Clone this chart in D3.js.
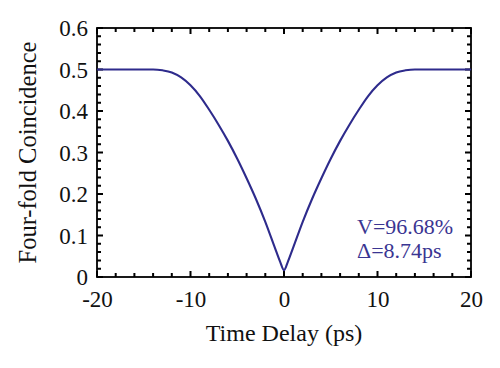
<!DOCTYPE html>
<html>
<head>
<meta charset="utf-8">
<script src="https://cdn.jsdelivr.net/npm/d3@7"></script>
<style>
  html, body { margin: 0; padding: 0; background: #fff; }
  svg { display: block; }
  text { font-family: "Liberation Serif", "DejaVu Serif", serif; }
</style>
</head>
<body>
<svg id="chart" width="500" height="368"></svg>
<script>
// ---- data ----
const delays = [-20, -16, -14, -13, -12, -11, -10, -9, -8, -7, -6, -5, -4, -3, -2, -1, -0.4, 0, 0.4, 1, 2, 3, 4, 5, 6, 7, 8, 9, 10, 11, 12, 13, 14, 16, 20];
const coincidence = [0.5, 0.5, 0.5, 0.498, 0.493, 0.481, 0.462, 0.436, 0.403, 0.367, 0.328, 0.285, 0.238, 0.188, 0.133, 0.072, 0.036, 0.0166, 0.036, 0.072, 0.133, 0.188, 0.238, 0.285, 0.328, 0.367, 0.403, 0.436, 0.462, 0.481, 0.493, 0.498, 0.5, 0.5, 0.5];
const xTickValues = [-20, -10, 0, 10, 20];
const yTickValues = [0, 0.1, 0.2, 0.3, 0.4, 0.5, 0.6];
const xLabel = "Time Delay (ps)";
const yLabel = "Four-fold Coincidence";
const annotations = ["V=96.68%", "\u0394=8.74ps"];

(function () {
const svg = d3.select("#chart");
const pLeft = 97, pRight = 471, pTop = 28, pBottom = 277;
const x = d3.scaleLinear().domain([-20, 20]).range([pLeft, pRight]);
const y = d3.scaleLinear().domain([0, 0.6]).range([pBottom, pTop]);
const lineColor = "#2e2b8c";
const tickFont = 23;

const xMinor = d3.range(-20, 20.001, 2);
const yMinor = d3.range(0, 0.6001, 0.02);
function isMajorX(v) { return Math.abs(v / 10 - Math.round(v / 10)) < 1e-6; }
function isMajorY(v) { return Math.abs(v * 10 - Math.round(v * 10)) < 1e-6; }

const g = svg.append("g");

// frame
g.append("rect").attr("x", pLeft).attr("y", pTop).attr("width", pRight - pLeft).attr("height", pBottom - pTop)
  .attr("fill", "none").attr("stroke", "#000").attr("stroke-width", 1.8);

// inward ticks drawn as one path per side
function tickPath(data, f) {
  const p = d3.path();
  data.forEach(d => { const a = f(d); p.moveTo(a[0], a[1]); p.lineTo(a[2], a[3]); });
  g.append("path").attr("d", p.toString()).attr("fill", "none").attr("stroke", "#000").attr("stroke-width", 2);
}
tickPath(xMinor, d => [x(d), pBottom, x(d), pBottom - (isMajorX(d) ? 6 : 4)]);
tickPath(xMinor, d => [x(d), pTop, x(d), pTop + (isMajorX(d) ? 6 : 4)]);
tickPath(yMinor, d => [pLeft, y(d), pLeft + (isMajorY(d) ? 6 : 4), y(d)]);
tickPath(yMinor, d => [pRight, y(d), pRight - (isMajorY(d) ? 6 : 4), y(d)]);

// tick labels via axes
const xLab = g.append("g").attr("transform", `translate(0,${pBottom})`)
  .call(d3.axisBottom(x).tickValues(xTickValues).tickSize(0).tickPadding(0).tickFormat(d => String(d)));
xLab.select(".domain").remove();
xLab.selectAll("line").remove();
xLab.selectAll("text").attr("font-size", tickFont).attr("font-family", "Liberation Serif").attr("fill", "#111").attr("dy", null).attr("y", 30);

const yLab = g.append("g").attr("transform", `translate(${pLeft},0)`)
  .call(d3.axisLeft(y).tickValues(yTickValues).tickSize(0).tickPadding(0).tickFormat(d => d === 0 ? "0" : d3.format(".1f")(d)));
yLab.select(".domain").remove();
yLab.selectAll("line").remove();
yLab.selectAll("text").attr("font-size", tickFont).attr("font-family", "Liberation Serif").attr("fill", "#111").attr("x", -9).attr("dy", "0.34em");

// curve
const pts = delays.map((d, i) => [d, coincidence[i]]);
g.append("path").datum(pts)
  .attr("fill", "none").attr("stroke", lineColor).attr("stroke-width", 2.1)
  .attr("d", d3.line().x(d => x(d[0])).y(d => y(d[1])).curve(d3.curveMonotoneX));

// annotations
g.selectAll("text.ann").data(annotations).join("text").attr("class", "ann")
  .attr("x", 357).attr("y", (d, i) => 234 + i * 24)
  .attr("font-size", 22).attr("fill", "#3a3592").text(d => d);

// axis titles
g.append("text").attr("x", (pLeft + pRight) / 2).attr("y", 341).attr("text-anchor", "middle")
  .attr("font-size", 24).attr("fill", "#111").text(xLabel);
g.append("text").attr("transform", `translate(36,${(pTop + pBottom) / 2}) rotate(-90)`)
  .attr("text-anchor", "middle").attr("font-size", 24.5).attr("fill", "#111").text(yLabel);
})();
</script>
</body>
</html>
